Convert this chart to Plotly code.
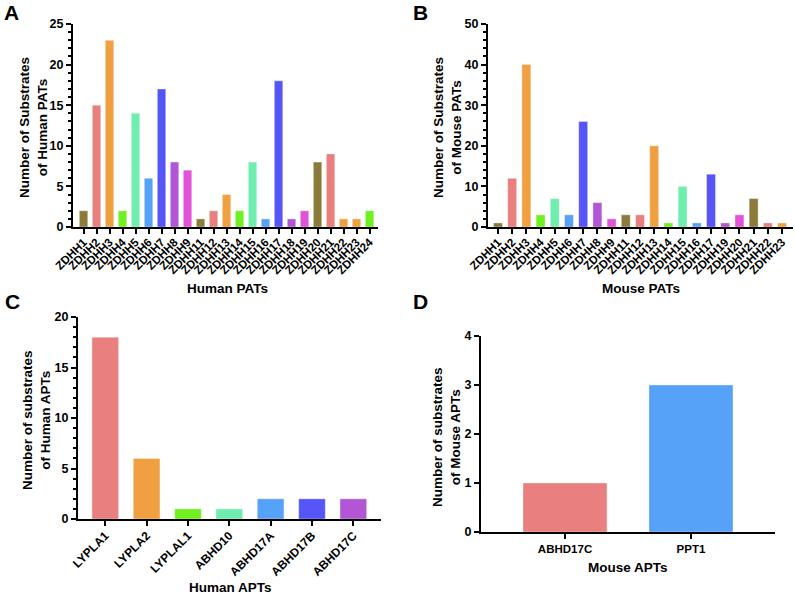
import plotly.graph_objects as go

W, H = 795, 596

# ---------------- data ----------------
human_pats = ["ZDHH1", "ZDHH2", "ZDHH3", "ZDHH4", "ZDHH5", "ZDHH6", "ZDHH7", "ZDHH8", "ZDHH9",
              "ZDHH11", "ZDHH12", "ZDHH13", "ZDHH14", "ZDHH15", "ZDHH16", "ZDHH17", "ZDHH18",
              "ZDHH19", "ZDHH20", "ZDHH21", "ZDHH22", "ZDHH23", "ZDHH24"]
human_pat_values = [2, 15, 23, 2, 14, 6, 17, 8, 7, 1, 2, 4, 2, 8, 1, 18, 1, 2, 8, 9, 1, 1, 2]

mouse_pats = ["ZDHH1", "ZDHH2", "ZDHH3", "ZDHH4", "ZDHH5", "ZDHH6", "ZDHH7", "ZDHH8", "ZDHH9",
              "ZDHH11", "ZDHH12", "ZDHH13", "ZDHH14", "ZDHH15", "ZDHH16", "ZDHH17", "ZDHH19",
              "ZDHH20", "ZDHH21", "ZDHH22", "ZDHH23"]
mouse_pat_values = [1, 12, 40, 3, 7, 3, 26, 6, 2, 3, 3, 20, 1, 10, 1, 13, 1, 3, 7, 1, 1]

human_apts = ["LYPLA1", "LYPLA2", "LYPLAL1", "ABHD10", "ABHD17A", "ABHD17B", "ABHD17C"]
human_apt_values = [18, 6, 1, 1, 2, 2, 2]

mouse_apts = ["ABHD17C", "PPT1"]
mouse_apt_values = [1, 3]

# ---------------- colours ----------------
OLIVE = "#8C7C3C"
SALMON = "#E97F7F"
ORANGE = "#F0A040"
GREEN = "#70F020"
MINT = "#70EEB0"
BLUE = "#55A2F8"
INDIGO = "#5656F8"
PURPLE = "#B256D6"
MAGENTA = "#E253D8"
cycle = [OLIVE, SALMON, ORANGE, GREEN, MINT, BLUE, INDIGO, PURPLE, MAGENTA]

human_pat_colors = [cycle[i % 9] for i in range(len(human_pats))]
human_pat_colors[21] = ORANGE  # ZDHH23 drawn orange in the source
human_pat_colors[22] = GREEN   # ZDHH24 drawn green in the source
mouse_pat_colors = [cycle[i % 9] for i in range(len(mouse_pats))]
human_apt_colors = [SALMON, ORANGE, GREEN, MINT, BLUE, INDIGO, PURPLE]
mouse_apt_colors = [SALMON, BLUE]

FONT = "Liberation Sans, Arial, sans-serif"


def px_x(p):
    return p / W


def px_y(p):
    return 1 - p / H


fig = go.Figure()

panels = [
    dict(x=human_pats, y=human_pat_values, c=human_pat_colors, w=0.65, n=1, xf=11.6, so=-3,
         xd=[73, 378], yd=[24, 227], xr=[-0.81, 22.65], yr=[0, 25], dt=5, mdt=1, ang=-45),
    dict(x=mouse_pats, y=mouse_pat_values, c=mouse_pat_colors, w=0.63, n=2, xf=11.6, so=-3,
         xd=[488, 793], yd=[24, 227], xr=[-0.7, 20.77], yr=[0, 50], dt=10, mdt=2, ang=-45),
    dict(x=human_apts, y=human_apt_values, c=human_apt_colors, w=0.645, n=3, xf=12, so=-2,
         xd=[78, 381], yd=[317, 519], xr=[-0.66, 6.67], yr=[0, 20], dt=5, mdt=1, ang=-45),
    dict(x=mouse_apts, y=mouse_apt_values, c=mouse_apt_colors, w=0.667, n=4, xf=11.5, so=0,
         xd=[481, 775], yd=[336, 532], xr=[-0.667, 1.667], yr=[0, 4], dt=1, mdt=None, ang=0),
]

layout_axes = {}
for p in panels:
    n = p["n"]
    xa = "x" if n == 1 else f"x{n}"
    ya = "y" if n == 1 else f"y{n}"
    fig.add_trace(go.Bar(
        x=p["x"], y=p["y"], width=p["w"], xaxis=xa, yaxis=ya,
        marker=dict(color=p["c"], line=dict(width=0.6, color="rgba(255,255,255,0.6)")),
        showlegend=False, hoverinfo="x+y",
    ))
    xkey = "xaxis" if n == 1 else f"xaxis{n}"
    ykey = "yaxis" if n == 1 else f"yaxis{n}"
    layout_axes[xkey] = dict(
        domain=[px_x(p["xd"][0]), px_x(p["xd"][1])],
        anchor=ya, type="category", range=p["xr"], dtick=1,
        showline=True, linecolor="black", linewidth=2,
        ticks="outside", ticklen=5, tickwidth=1.5, tickcolor="black",
        tickangle=p["ang"], showgrid=False, zeroline=False, automargin=False,
        ticklabelstandoff=p["so"],
        tickfont=dict(family=FONT, size=p["xf"], color="black", weight="bold"),
        fixedrange=True,
    )
    ydict = dict(
        domain=[px_y(p["yd"][1]), px_y(p["yd"][0])],
        anchor=xa, range=p["yr"], dtick=p["dt"], tick0=0,
        showline=True, linecolor="black", linewidth=2,
        ticks="outside", ticklen=5, tickwidth=1.5, tickcolor="black",
        showgrid=False, zeroline=False, automargin=False,
        tickfont=dict(family=FONT, size=12.5, color="black", weight="bold"),
        fixedrange=True,
    )
    if p["mdt"]:
        ydict["minor"] = dict(dtick=p["mdt"], tick0=0, ticks="outside", ticklen=3,
                              tickwidth=1.5, tickcolor="black", showgrid=False)
    layout_axes[ykey] = ydict

fig.update_layout(**layout_axes)

annotations = []
# panel letters
for letter, (lx, ly) in zip("ABCD", [(11, 13), (420, 13), (12, 301), (420, 301)]):
    annotations.append(dict(text=f"<b>{letter}</b>", x=px_x(lx), y=px_y(ly),
                            xref="paper", yref="paper", showarrow=False,
                            xanchor="center", yanchor="middle",
                            font=dict(family=FONT, size=21, color="black")))

# y axis titles
ytitles = [
    ("Number of Substrates<br>of Human PATs", 33, 128),
    ("Number of Substrates<br>of Mouse PATs", 447, 128),
    ("Number of substrates<br>of Human APTs", 36, 420),
    ("Number of substrates<br>of Mouse APTs", 446, 437),
]
for t, tx, ty in ytitles:
    annotations.append(dict(text=f"<b>{t}</b>", x=px_x(tx), y=px_y(ty),
                            xref="paper", yref="paper", showarrow=False, textangle=-90,
                            xanchor="center", yanchor="middle",
                            font=dict(family=FONT, size=13.5, color="black")))

# x axis titles
xtitles = [
    ("Human PATs", 227, 288),
    ("Mouse PATs", 641, 288),
    ("Human APTs", 230, 587),
    ("Mouse APTs", 628, 567),
]
for t, tx, ty in xtitles:
    annotations.append(dict(text=f"<b>{t}</b>", x=px_x(tx), y=px_y(ty),
                            xref="paper", yref="paper", showarrow=False,
                            xanchor="center", yanchor="middle",
                            font=dict(family=FONT, size=13.5, color="black")))

fig.update_layout(
    width=W, height=H,
    margin=dict(l=0, r=0, t=0, b=0),
    paper_bgcolor="white", plot_bgcolor="white",
    bargap=0.3,
    annotations=annotations,
)

fig.write_html(
    "out.html",
    config={"displayModeBar": False},
    post_script="document.body.style.margin='0';document.body.style.overflow='hidden';",
)
